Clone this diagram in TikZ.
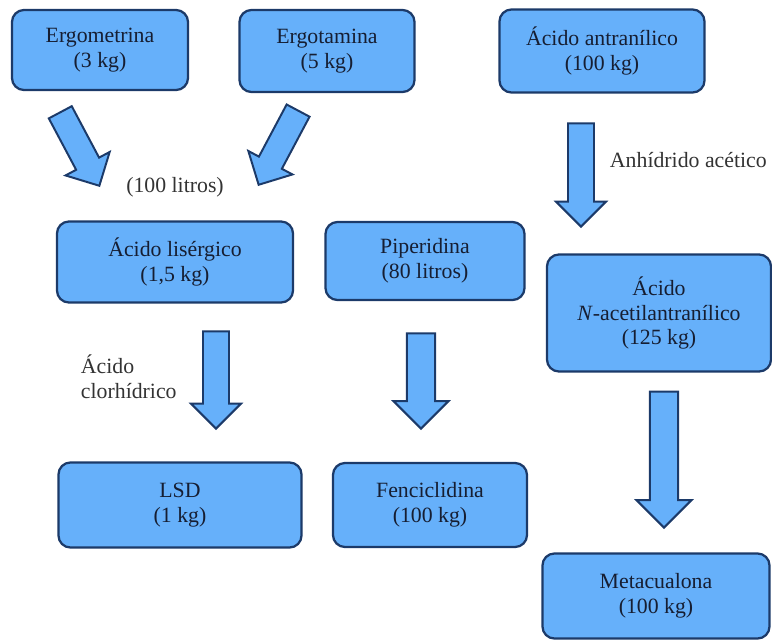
\documentclass[tikz,border=0pt]{standalone}
\usepackage{fontspec}
\setmainfont{Liberation Serif}
\usetikzlibrary{shapes.arrows}
\definecolor{cajaazul}{RGB}{102,176,250}
\definecolor{bordeazul}{RGB}{28,58,105}
\definecolor{textoazul}{RGB}{22,30,50}

\begin{document}
\begin{tikzpicture}[x=0.025cm,y=-0.025cm,font=\fontsize{15.5}{17.7}\selectfont]
 \tikzstyle{caja}=[draw=bordeazul,fill=cajaazul,line width=1.6pt,rounded corners=0.3cm,align=center,text=textoazul,inner sep=2pt]
 \tikzstyle{flecha}=[single arrow,draw=bordeazul,fill=cajaazul,line width=1.4pt,inner sep=0.3cm,single arrow head extend=0.3cm,anchor=tip]
 \tikzstyle{nota}=[text=black!80,align=left]
   \useasboundingbox (0,0) rectangle (772,640);
   % primera fila
   \node[caja,minimum width=4.4cm,minimum height=2cm] (ergometrina) at (100,50) {Ergometrina\\(3 kg)};
   \node[caja,minimum width=4.375cm,minimum height=2.05cm] (ergotamina) at (327,51) {Ergotamina\\(5 kg)};
   \node[caja,minimum width=5.125cm,minimum height=2.075cm] (antranilico) at (602,51) {Ácido antranílico\\(100 kg)};
   % segunda fila
   \node[caja,minimum width=5.9cm,minimum height=2.025cm] (lisergico) at (175,262) {Ácido lisérgico\\(1,5 kg)};
   \node[caja,minimum width=4.975cm,minimum height=1.95cm] (piperidina) at (425,261) {Piperidina\\(80 litros)};
   \node[caja,minimum width=5.6cm,minimum height=2.925cm] (acetil) at (659,313) {Ácido\\\textit{N}-acetilantranílico\\(125 kg)};
   % tercera fila
   \node[caja,minimum width=6.075cm,minimum height=2.125cm] (lsd) at (180,505) {LSD\\(1 kg)};
   \node[caja,minimum width=4.85cm,minimum height=2.1cm] (fenciclidina) at (430,505) {Fenciclidina\\(100 kg)};
   \node[caja,minimum width=5.675cm,minimum height=2.125cm] (metacualona) at (656,596) {Metacualona\\(100 kg)};
   % flechas
   \node[flecha,rotate=-62,minimum height=2.08cm] (f1) at (100,187) {};
   \node[flecha,rotate=-118,minimum height=2.1cm] (f2) at (258,186) {};
   \node[flecha,rotate=-90,minimum height=2.58cm] (f3) at (581,228) {};
   \node[flecha,rotate=-90,minimum height=2.43cm] (f4) at (216,430) {};
   \node[flecha,rotate=-90,minimum height=2.38cm,inner sep=0.33cm,single arrow head extend=0.33cm] (f5) at (421,430) {};
   \node[flecha,rotate=-90,minimum height=3.4cm,inner sep=0.33cm,single arrow head extend=0.33cm] (f6) at (664,529) {};
   % reactivos
   \node[nota] (litros) at (175,187) {(100 litros)};
   \node[nota,anchor=west] (anhidrido) at (605,160) {Anhídrido acético};
   \node[nota,anchor=west] (clorhidrico) at (76,377) {Ácido\\clorhídrico};
\end{tikzpicture}
\end{document}
